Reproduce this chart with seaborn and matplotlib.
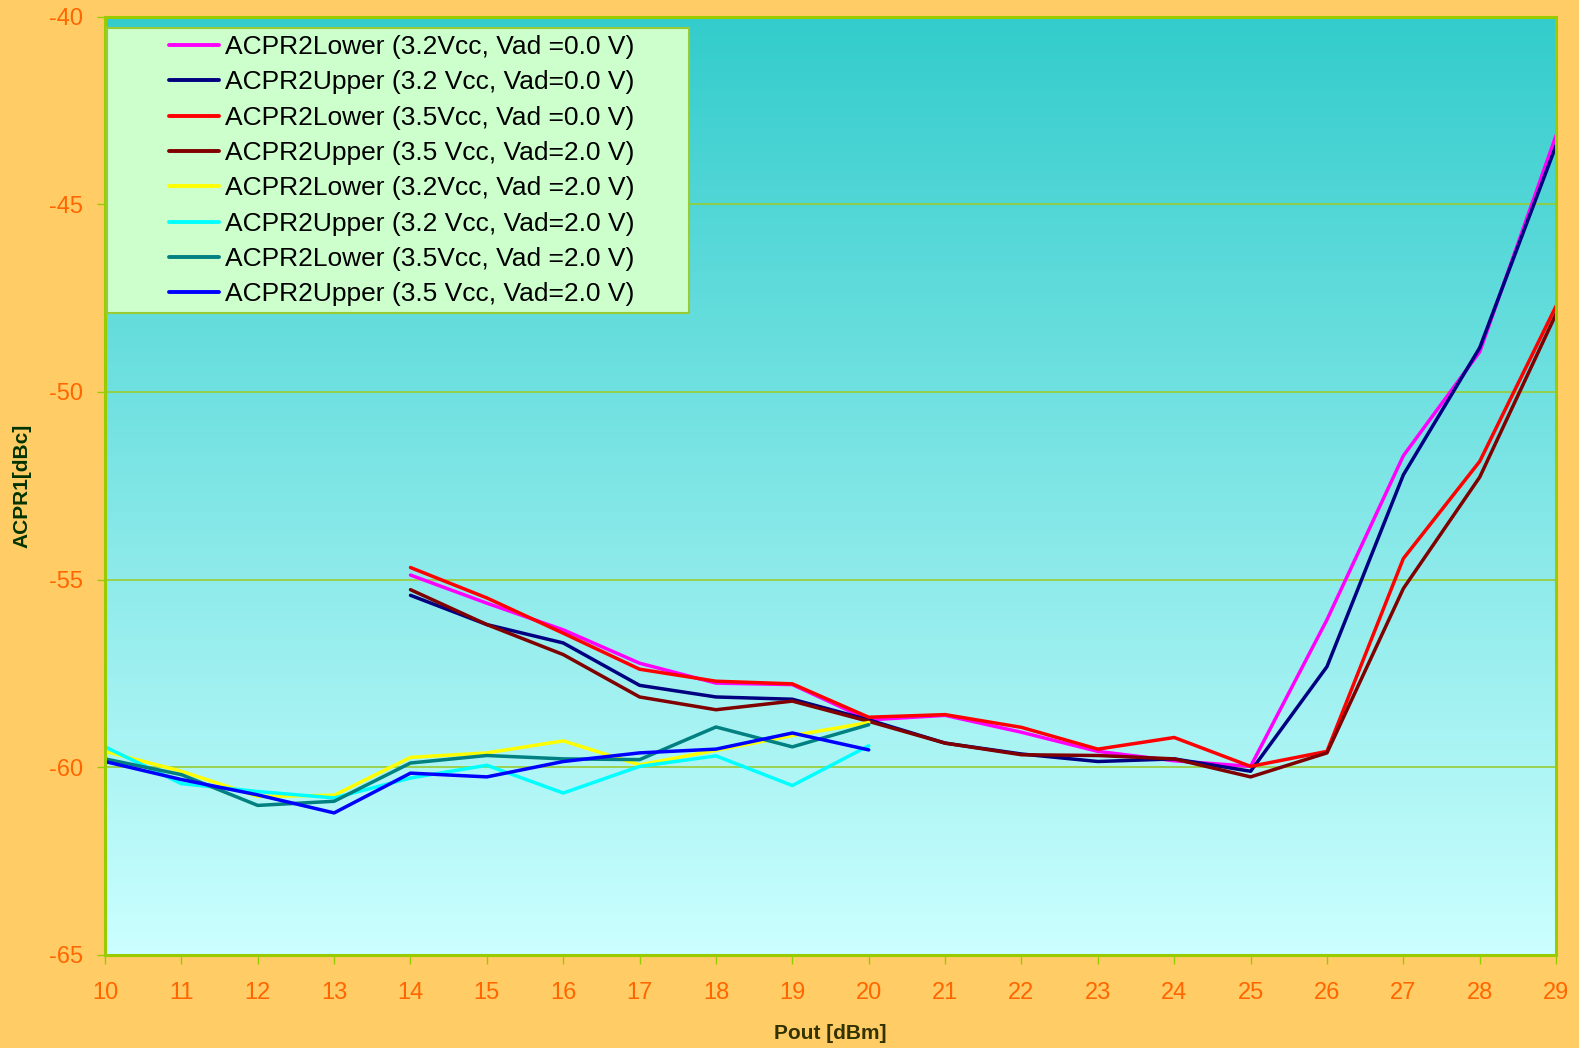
import numpy as np
import matplotlib
matplotlib.use("Agg")
import matplotlib.pyplot as plt
from matplotlib.patches import Rectangle
from matplotlib.colors import to_rgb
import seaborn as sns

# Output power points
pout_low = list(range(10, 21))   # 10..20 dBm (Vad = 2.0 V sweeps, 3.2/3.5 Vcc)
pout_high = list(range(14, 30))  # 14..29 dBm

# ACPR values [dBc]
lower_32_v0 = [-54.88, -55.63, -56.34, -57.23, -57.76, -57.80, -58.74, -58.62,
               -59.07, -59.58, -59.83, -59.98, -56.07, -51.70, -48.93, -43.16]
upper_32_v0 = [-55.42, -56.20, -56.69, -57.82, -58.13, -58.19, -58.74, -59.36,
               -59.65, -59.85, -59.78, -60.11, -57.32, -52.21, -48.82, -43.43]
lower_35_v0 = [-54.68, -55.49, -56.43, -57.39, -57.71, -57.78, -58.67, -58.60,
               -58.94, -59.52, -59.21, -59.98, -59.58, -54.44, -51.85, -47.71]
upper_35_v2a = [-55.27, -56.20, -57.00, -58.13, -58.47, -58.24, -58.78, -59.36,
                -59.67, -59.69, -59.78, -60.26, -59.62, -55.24, -52.27, -47.92]
lower_32_v2 = [-59.58, -60.11, -60.78, -60.75, -59.74, -59.62, -59.30, -59.94,
               -59.55, -59.16, -58.81]
upper_32_v2 = [-59.46, -60.44, -60.65, -60.82, -60.29, -59.95, -60.69, -59.98,
               -59.70, -60.49, -59.43]
lower_35_v2 = [-59.78, -60.20, -61.02, -60.91, -59.89, -59.69, -59.78, -59.80,
               -58.93, -59.46, -58.87]
upper_35_v2 = [-59.85, -60.33, -60.74, -61.22, -60.16, -60.26, -59.85, -59.62,
               -59.52, -59.09, -59.54]

labels = [
    "ACPR2Lower (3.2Vcc, Vad =0.0 V)",
    "ACPR2Upper (3.2 Vcc, Vad=0.0 V)",
    "ACPR2Lower (3.5Vcc, Vad =0.0 V)",
    "ACPR2Upper (3.5 Vcc, Vad=2.0 V)",
    "ACPR2Lower (3.2Vcc, Vad =2.0 V)",
    "ACPR2Upper (3.2 Vcc, Vad=2.0 V)",
    "ACPR2Lower (3.5Vcc, Vad =2.0 V)",
    "ACPR2Upper (3.5 Vcc, Vad=2.0 V)",
]
colors = ["#FF00FF", "#000080", "#FF0000", "#800000",
          "#FFFF00", "#00FFFF", "#008080", "#0000FF"]

x_ticks = list(range(10, 30))
y_ticks = list(range(-65, -39, 5))

series = [
    (pout_high, lower_32_v0),
    (pout_high, upper_32_v0),
    (pout_high, lower_35_v0),
    (pout_high, upper_35_v2a),
    (pout_low, lower_32_v2),
    (pout_low, upper_32_v2),
    (pout_low, lower_35_v2),
    (pout_low, upper_35_v2),
]

sns.set_theme(style="white", rc={"figure.facecolor": "#FFCC66"})
plt.rcParams["font.family"] = ["Liberation Sans", "DejaVu Sans"]
plt.rcParams["axes.unicode_minus"] = False

fig = plt.figure(figsize=(15.79, 10.48), dpi=100)
ax = fig.add_axes([0.0665, 0.089, 0.919, 0.895])

# Vertical gradient background of the plot area
top_c = np.array(to_rgb("#33CCCC"))
bot_c = np.array(to_rgb("#CCFFFF"))
t = np.linspace(0, 1, 256)[:, None]
grad = (top_c * (1 - t) + bot_c * t)[:, None, :]
ax.imshow(grad, extent=[10, 29, -65, -40], aspect="auto", zorder=0, origin="upper")

for (xs, ys), lab, col in zip(series, labels, colors):
    sns.lineplot(x=xs, y=ys, color=col, lw=2.5, label=lab, ax=ax, legend=False)

ax.set_xlim(10, 29)
ax.set_ylim(-65, -40)
ax.set_xticks(x_ticks)
ax.set_yticks(y_ticks)
ax.set_axisbelow(True)
ax.yaxis.grid(True, color="#99CC33", lw=1.2)
ax.xaxis.grid(False)

for sp in ax.spines.values():
    sp.set_color("#99CC00")
    sp.set_linewidth(2.2)

ax.tick_params(axis="x", colors="#99CC00", length=6.5, width=1, pad=13,
               labelcolor="#FF6600", labelsize=17, bottom=True)
ax.tick_params(axis="y", colors="#99CC00", length=6, width=1, pad=10,
               labelcolor="#FF6600", labelsize=17, left=True)

ax.set_xlabel("Pout [dBm]", fontsize=15, fontweight="bold", color="#333300", va="center")
ax.set_ylabel("ACPR1[dBc]", fontsize=15, fontweight="bold", color="#003300", va="center")
ax.xaxis.set_label_coords(0.5, -0.0842)
ax.yaxis.set_label_coords(-0.0572, 0.5)

# Legend box drawn as a patch, legend itself without frame
ax.add_patch(Rectangle((0.0014, 0.6844), 0.4011, 0.3039, transform=ax.transAxes,
                       facecolor="#CCFFCC", edgecolor="#99CC33", lw=1.5, zorder=4))
handles, labs = ax.get_legend_handles_labels()
leg = ax.legend(handles, labs, loc="upper left", bbox_to_anchor=(0.0441, 0.9805),
                frameon=False, fontsize=19, borderpad=0, borderaxespad=0,
                handlelength=1.9, handletextpad=0.24, labelspacing=0.43,
                labelcolor="black")
leg.set_zorder(6)
for h in leg.legend_handles:
    h.set_linewidth(2.8)

fig.savefig("out.png", dpi=100, facecolor=fig.get_facecolor())
